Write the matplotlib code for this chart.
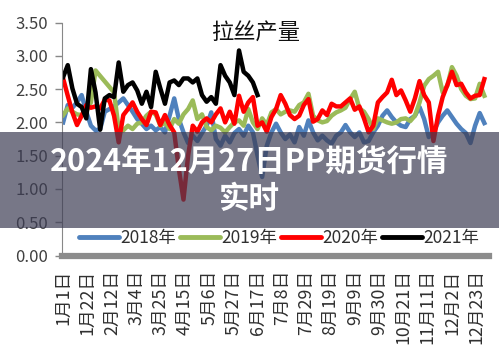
import numpy as np
import matplotlib
matplotlib.use("Agg")
import matplotlib.pyplot as plt
from matplotlib.patches import Rectangle

plt.rcParams['font.family'] = ['Noto Sans CJK SC', 'DejaVu Sans']

# sampled every 4 days from 1 Jan
days = np.arange(0, 365, 4)

y2018 = [2.00, 2.26, 2.22, 2.30, 2.41, 2.16, 1.95, 1.88, 1.90, 2.16,
         2.20, 2.24, 2.30, 2.36, 2.26, 2.16, 2.05, 1.98, 1.90, 1.95,
         1.88, 1.93, 1.85, 2.10, 2.36, 2.05, 1.85, 1.69, 1.80, 1.72,
         1.84, 1.95, 2.15, 1.75, 1.65, 1.80, 1.70, 1.84, 1.90, 1.80,
         1.95, 1.85, 1.50, 1.18, 1.65, 1.85, 1.98, 1.85, 1.75, 1.82,
         1.70, 1.93, 1.80, 2.03, 1.85, 1.73, 1.80, 1.73, 1.68, 1.80,
         1.85, 1.96, 1.85, 1.78, 1.85, 1.70, 1.72, 1.85, 1.95, 2.10,
         2.18, 2.08, 2.00, 1.95, 1.93, 2.05, 2.10, 2.23, 2.05, 1.78,
         1.85, 2.00, 2.10, 2.18, 2.08, 1.98, 1.90, 1.84, 1.69, 1.95,
         2.14, 1.99]

y2019 = [2.11, 2.21, 2.16, 2.12, 2.11, 2.16, 2.30, 2.78, np.nan, np.nan,
         np.nan, 2.45, 1.90, 1.88, 1.95, 1.90, 1.98, 2.00, 2.10, 2.16,
         2.12, 1.95, 2.00, 1.90, 2.05, 1.98, 2.12, 2.20, 2.33, 2.05,
         2.12, 1.93, 1.88, 1.95, 1.92, 1.85, 1.93, 2.00, 2.03, 1.95,
         2.20, 2.00, 1.90, 2.06, 1.96, 2.15, 2.20, 2.12, 2.16, 2.18,
         2.16, 2.26, 2.30, 2.43, 2.10, 2.03, 2.00, 2.02, 2.10, 2.15,
         2.18, 2.22, 2.35, 2.46, 2.21, 2.16, 2.05, 1.90, 2.06, 2.03,
         2.00, 1.98, 2.00, 2.05, 2.06, 2.02, 2.10, 2.30, 2.55, 2.65,
         2.70, 2.76, 2.45, 2.55, 2.83, 2.70, 2.50, 2.40, 2.35, 2.36,
         2.58, 2.40]

y2020 = [2.66, 2.40, 2.15, 1.96, 2.10, 2.26, 2.22, 2.24, 2.21, 2.34,
         2.33, 2.10, 1.70, 2.11, 2.20, 2.30, 2.16, 2.05, 1.96, 2.16,
         2.15, 1.96, 2.11, 1.96, 1.85, 1.30, 0.84, 1.50, 1.95, 1.86,
         2.00, 2.06, 2.00, 2.12, 2.21, 2.00, 2.16, 1.98, 2.40, 2.16,
         2.30, 2.38, 1.95, 2.00, 1.86, 2.08, 2.20, 2.41, 2.28, 2.11,
         2.05, 2.10, 2.26, 2.35, 2.01, 2.05, 2.18, 2.11, 2.28, 2.24,
         2.24, 2.30, 2.36, 2.19, 2.24, 2.06, 1.85, 1.95, 2.30, 2.38,
         2.45, 2.64, 2.41, 2.48, 2.33, 2.16, 2.36, 2.62, 2.41, 2.30,
         1.72, 2.10, 2.38, 2.56, 2.76, 2.56, 2.58, 2.45, 2.36, 2.40,
         2.41, 2.65]

y2021 = [2.68, 2.86, 2.51, 2.28, 2.23, 2.06, 2.80, 2.45, 1.89, 2.36,
         2.41, 2.38, 2.90, 2.46, 2.56, 2.60, 2.48, 2.28, 2.46, 2.23,
         2.76, 2.51, 2.28, 2.60, 2.63, 2.56, 2.66, 2.66, 2.60, 2.66,
         2.41, 2.31, 2.38, 2.28, 2.86, 2.70, 2.60, 2.41, 3.08, 2.76,
         2.70, 2.60, 2.41]

tick_days = [0, 21, 42, 63, 84, 105, 126, 147, 168, 189, 210, 231,
             252, 273, 294, 315, 336, 357]
tick_labels = ['1月1日', '1月22日', '2月12日', '3月4日', '3月25日', '4月15日',
               '5月6日', '5月27日', '6月17日', '7月8日', '7月29日', '8月19日',
               '9月9日', '9月30日', '10月21日', '11月11日', '12月2日', '12月23日']

series = [('2018年', y2018, '#4f81bd'),
          ('2019年', y2019, '#9bbb59'),
          ('2020年', y2020, '#ff0000'),
          ('2021年', y2021, '#000000')]

fig = plt.figure(figsize=(4.99, 3.61), dpi=100)
ax = fig.add_axes([0.1242, 0.2922, 0.8557, 0.6454])

for name, vals, color in series:
    v = np.array(vals, dtype=float)
    d = days[:len(v)]
    ok = ~np.isnan(v)
    ax.plot(d[ok], v[ok], color=color, lw=3.2, label=name, solid_joinstyle='round')

ax.set_xlim(-1, 368)
ax.set_ylim(0, 3.5)
ax.set_yticks(np.arange(0, 3.51, 0.5))
ax.set_yticklabels([f'{t:.2f}' for t in np.arange(0, 3.51, 0.5)])
ax.set_xticks(tick_days)
ax.set_xticklabels(tick_labels, rotation=90, va='top', ha='center')

ax.tick_params(axis='y', labelsize=12, colors='#404040', length=5, width=1,
               direction='out', pad=5)
ax.tick_params(axis='y', color='#888888')
ax.tick_params(axis='x', labelsize=12.8, labelcolor='#303030', length=0, pad=10)

for s in ['top', 'right']:
    ax.spines[s].set_visible(False)
ax.spines['left'].set_color('#888888')
ax.spines['bottom'].set_color('#8c8c8c')
ax.spines['bottom'].set_linewidth(4.5)

ax.text(0.453, 0.955, '拉丝产量', transform=ax.transAxes, fontsize=16,
        ha='center', va='center', color='#111111')

leg = ax.legend(loc='center', bbox_to_anchor=(0.559, 0.341),
                bbox_transform=fig.transFigure, ncol=4, fontsize=12.5,
                frameon=True, fancybox=False, handlelength=2.3,
                handletextpad=0.1, columnspacing=0.2, borderpad=0.25)
leg.get_frame().set_facecolor('white')
leg.get_frame().set_edgecolor('white')
for line in leg.get_lines():
    line.set_linewidth(3.5)
    line.set_solid_capstyle('round')
for t in leg.get_texts():
    t.set_color('#303030')

# grey caption banner laid over the chart
fig.add_artist(Rectangle((0, 0.368), 1, 0.266, transform=fig.transFigure,
                         facecolor=(0.24, 0.24, 0.33), alpha=0.7,
                         edgecolor='none', zorder=5))
fig.text(0.5, 0.551, '2024年12月27日PP期货行情', color='white', fontsize=22,
         fontweight='bold', ha='center', va='center', zorder=6)
fig.text(0.5, 0.449, '实时', color='white', fontsize=22,
         fontweight='bold', ha='center', va='center', zorder=6)

fig.savefig('out.png', dpi=100)
